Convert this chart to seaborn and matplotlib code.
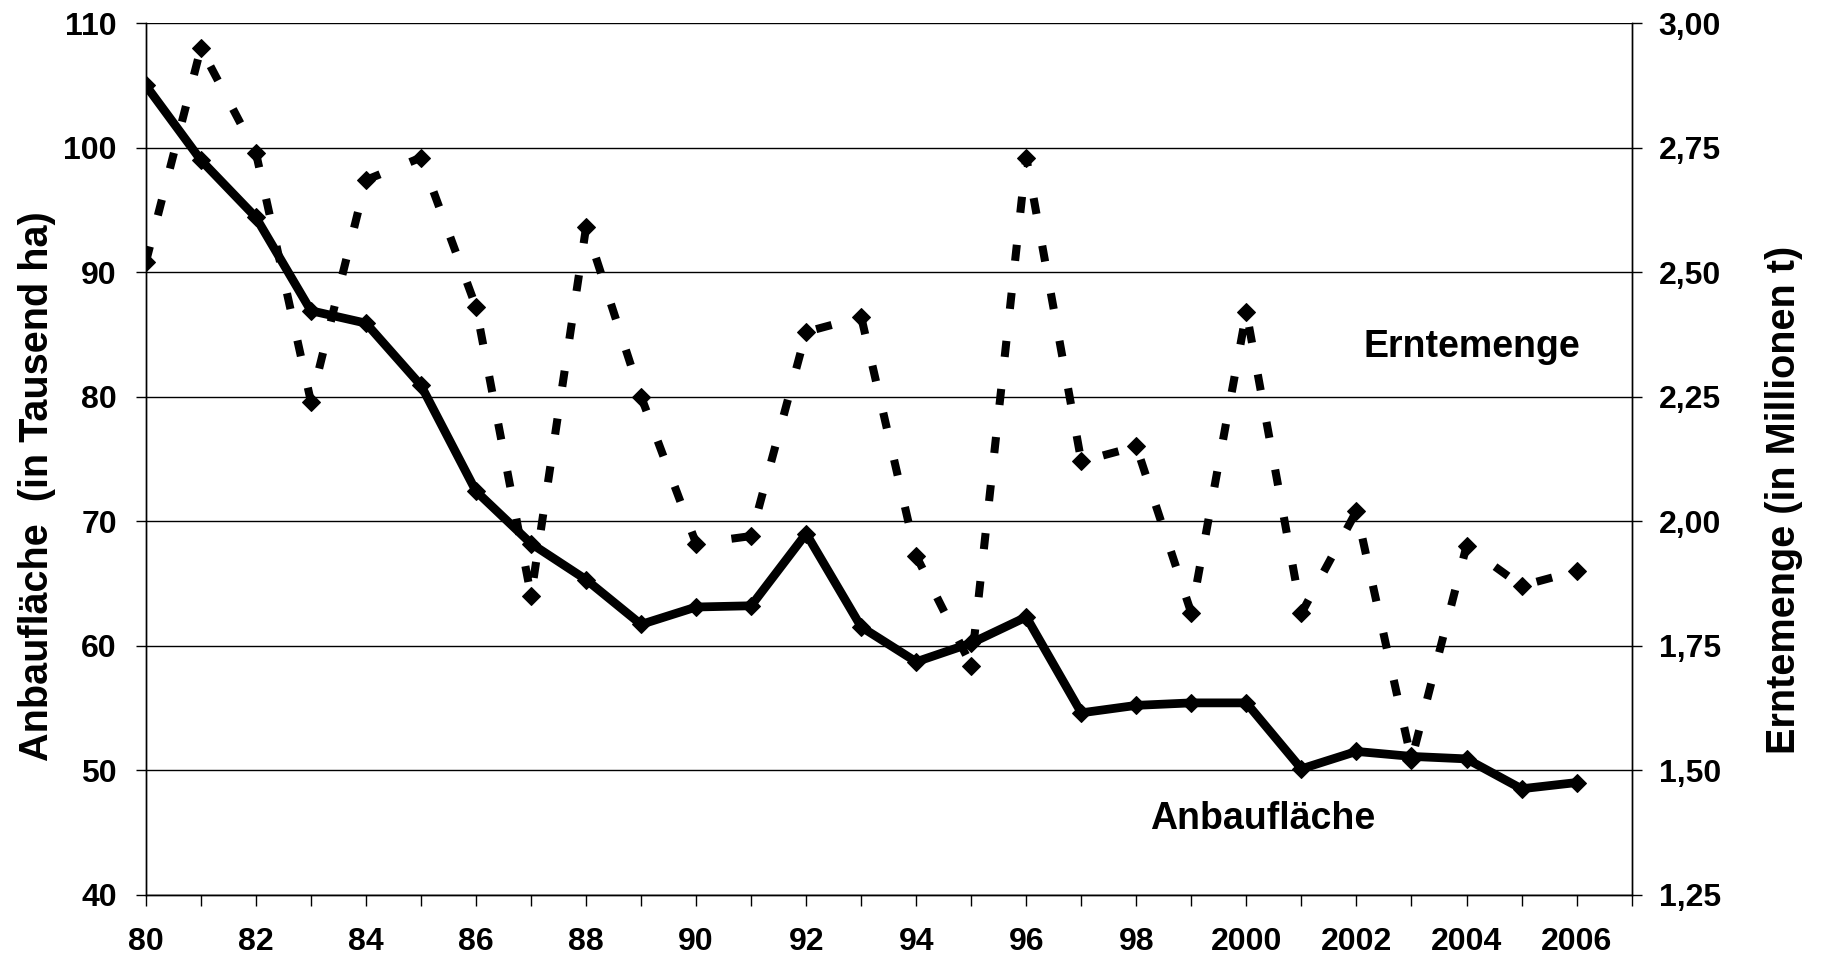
import matplotlib
matplotlib.use("Agg")
import matplotlib.pyplot as plt
import seaborn as sns
import pandas as pd

# Jahre 1980-2006
years = list(range(1980, 2007))

# Anbaufläche (in Tausend ha), linke Achse
anbauflaeche = [105.0, 99.0, 94.4, 86.9, 85.9, 80.9, 72.4, 68.2, 65.3, 61.7,
                63.1, 63.2, 69.0, 61.5, 58.7, 60.2, 62.3, 54.6, 55.2, 55.4,
                55.4, 50.1, 51.5, 51.1, 50.9, 48.5, 49.0]

# Erntemenge (in Millionen t), rechte Achse
erntemenge = [2.52, 2.95, 2.74, 2.24, 2.685, 2.73, 2.43, 1.85, 2.59, 2.25,
              1.955, 1.97, 2.38, 2.41, 1.93, 1.71, 2.73, 2.12, 2.15, 1.815,
              2.42, 1.815, 2.02, 1.52, 1.95, 1.87, 1.90]

left_ticks = [40, 50, 60, 70, 80, 90, 100, 110]
right_ticks = [1.25, 1.50, 1.75, 2.00, 2.25, 2.50, 2.75, 3.00]
right_labels = ["1,25", "1,50", "1,75", "2,00", "2,25", "2,50", "2,75", "3,00"]
xlabel_years = list(range(1980, 2007, 2))
xlabels = ["80", "82", "84", "86", "88", "90", "92", "94", "96", "98",
           "2000", "2002", "2004", "2006"]

df = pd.DataFrame({"Jahr": years, "Anbauflaeche": anbauflaeche, "Erntemenge": erntemenge})

sns.set_theme(style="white")
plt.rcParams["font.family"] = ["Liberation Sans", "DejaVu Sans"]
plt.rcParams["font.weight"] = "bold"
plt.rcParams["text.color"] = "black"
plt.rcParams["axes.labelcolor"] = "black"
plt.rcParams["xtick.color"] = "black"
plt.rcParams["ytick.color"] = "black"

fig = plt.figure(figsize=(18.23, 9.64), dpi=100)
ax = fig.add_axes([0.080, 0.072, 0.815, 0.904])
ax2 = ax.twinx()

sns.lineplot(data=df, x="Jahr", y="Anbauflaeche", ax=ax, color="black",
             linewidth=6.3, marker="D", markersize=9.5, markeredgecolor="black")
sns.lineplot(data=df, x="Jahr", y="Erntemenge", ax=ax2, color="black",
             linewidth=5.8, linestyle=(0, (2.0, 4.0)), marker="D", markersize=9.5,
             markeredgecolor="black")

ax.set_xlim(1980, 2007)
ax.set_ylim(40, 110)
ax2.set_ylim(1.25, 3.00)

ax.set_yticks(left_ticks)
ax.set_yticklabels([str(t) for t in left_ticks])
ax2.set_yticks(right_ticks)
ax2.set_yticklabels(right_labels)

ax.set_xticks(list(range(1980, 2008)))
ax.set_xticklabels([xlabels[xlabel_years.index(y)] if y in xlabel_years else "" for y in range(1980, 2008)])

ax.grid(axis="y", color="black", linewidth=1)
ax.grid(axis="x", visible=False)
ax2.grid(False)

for a in (ax, ax2):
    for s in a.spines.values():
        s.set_color("black")
        s.set_linewidth(1)
    a.spines["top"].set_visible(False)

ax.tick_params(axis="y", direction="out", length=7.2, width=1,
               labelsize=23, pad=13.7, left=True)
ax.tick_params(axis="x", direction="out", length=7.7, width=1,
               labelsize=23, pad=15.5, bottom=True)
ax2.tick_params(axis="y", direction="out", length=7.5, width=1,
                labelsize=23, pad=12, right=True)

ax.set_xlabel("")
ax.set_ylabel("Anbaufläche  (in Tausend ha)", fontsize=28.5, fontweight="bold")
ax2.set_ylabel("Erntemenge (in Millionen t)", fontsize=28.5, fontweight="bold")
ax.yaxis.set_label_coords(-0.0732, 0.469)
ax2.yaxis.set_label_coords(1.1026, 0.453)
ax.yaxis.label.set_verticalalignment("center")
ax2.yaxis.label.set_verticalalignment("center")

ax.text(2004.1, 84.0, "Erntemenge", fontsize=27, fontweight="bold", ha="center", va="center")
ax.text(2000.3, 46.1, "Anbaufläche", fontsize=27, fontweight="bold", ha="center", va="center")

fig.savefig("out.png", dpi=100)
